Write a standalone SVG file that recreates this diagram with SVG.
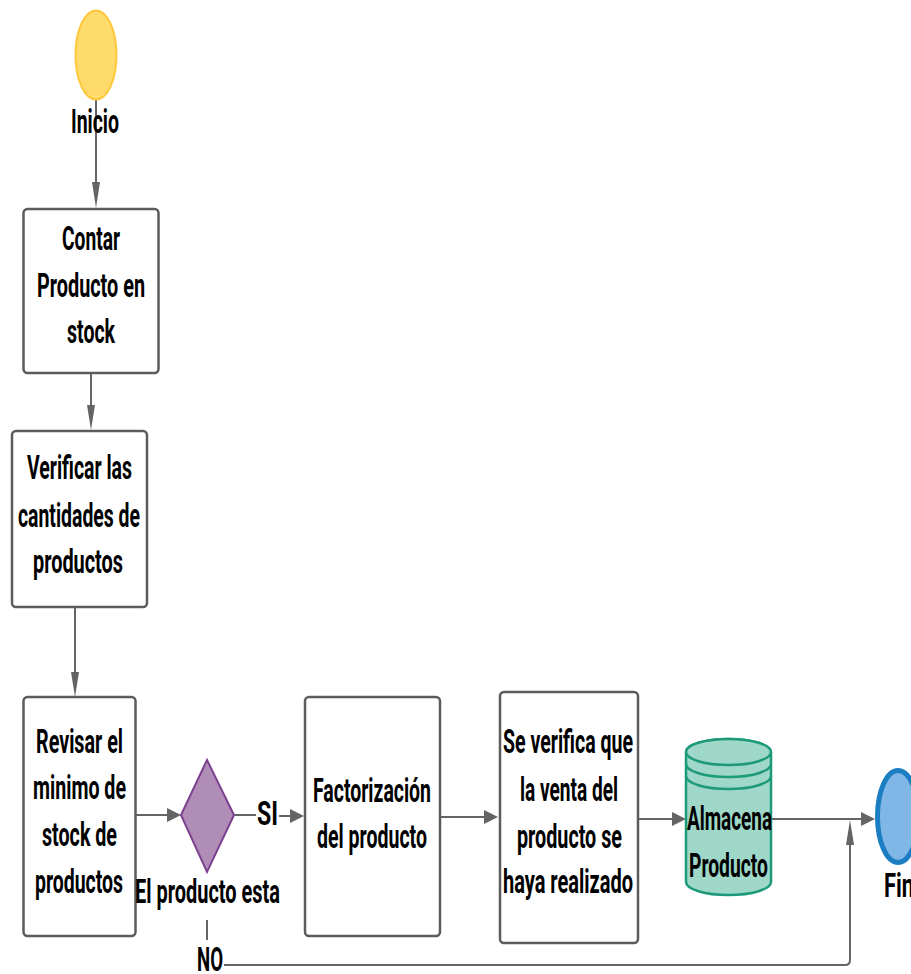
<svg xmlns="http://www.w3.org/2000/svg" width="911" height="974" viewBox="0 0 911 974">
<style>
.box{fill:#ffffff;stroke:#5c5c5c;stroke-width:2.5}
.t{font-family:Roboto,"Liberation Sans",sans-serif;font-weight:bold;font-size:33px;fill:#000000}
.ln{fill:none;stroke:#646464;stroke-width:2}
.ah{fill:#646464;stroke:none}
</style>
<rect width="911" height="974" fill="#ffffff"/>
<g id="connectors">
<line class="ln" x1="96" y1="100" x2="96" y2="184"/>
<polygon class="ah" points="92,182 100,182 96,208"/>
<line class="ln" x1="91" y1="374" x2="91" y2="407"/>
<polygon class="ah" points="87,405 95,405 91,430"/>
<line class="ln" x1="75" y1="608" x2="75" y2="674"/>
<polygon class="ah" points="71,672 79,672 75,697"/>
<line class="ln" x1="136" y1="815" x2="169" y2="815"/>
<polygon class="ah" points="167,808 167,822 181,815"/>
<line class="ln" x1="234" y1="815" x2="256" y2="815"/>
<line class="ln" x1="279" y1="816" x2="292" y2="816"/>
<polygon class="ah" points="290,809 290,823 304,816"/>
<line class="ln" x1="440" y1="817" x2="486" y2="817"/>
<polygon class="ah" points="484,810 484,824 498,817"/>
<line class="ln" x1="638" y1="819" x2="674" y2="819"/>
<polygon class="ah" points="672,812 672,826 686,819"/>
<line class="ln" x1="771" y1="819" x2="863" y2="819"/>
<polygon class="ah" points="861,812 861,826 875,819"/>
<line class="ln" x1="207" y1="920" x2="207" y2="940"/>
<path class="ln" d="M224,965 H845 Q850,965 850,960 V843"/>
<polygon class="ah" points="846,845 854,845 850,820"/>
<text class="t" x="257" y="825" textLength="21" lengthAdjust="spacingAndGlyphs">SI</text>
<text class="t" x="197" y="971" textLength="26" lengthAdjust="spacingAndGlyphs">NO</text>
</g>
<g id="inicio">
<ellipse cx="96" cy="55" rx="20.5" ry="44.5" fill="#FFDB6C" stroke="#FFC73A" stroke-width="2"/>
<text class="t" x="71" y="133" textLength="48" lengthAdjust="spacingAndGlyphs">Inicio</text>
</g>
<g id="contar">
<rect class="box" x="23.5" y="209" width="135" height="164" rx="4"/>
<text class="t" x="62" y="250" textLength="58" lengthAdjust="spacingAndGlyphs">Contar</text>
<text class="t" x="37" y="297" textLength="108" lengthAdjust="spacingAndGlyphs">Producto en</text>
<text class="t" x="67" y="343" textLength="48" lengthAdjust="spacingAndGlyphs">stock</text>
</g>
<g id="verificar">
<rect class="box" x="12" y="431" width="135" height="176" rx="4"/>
<text class="t" x="27" y="479" textLength="105" lengthAdjust="spacingAndGlyphs">Verificar las</text>
<text class="t" x="18" y="527" textLength="122" lengthAdjust="spacingAndGlyphs">cantidades de</text>
<text class="t" x="33" y="573" textLength="90" lengthAdjust="spacingAndGlyphs">productos</text>
</g>
<g id="revisar">
<rect class="box" x="23.5" y="697" width="112" height="239" rx="4"/>
<text class="t" x="36" y="753" textLength="87" lengthAdjust="spacingAndGlyphs">Revisar el</text>
<text class="t" x="33" y="799" textLength="93" lengthAdjust="spacingAndGlyphs">minimo de</text>
<text class="t" x="42" y="846" textLength="75" lengthAdjust="spacingAndGlyphs">stock de</text>
<text class="t" x="35" y="893" textLength="88" lengthAdjust="spacingAndGlyphs">productos</text>
</g>
<g id="decision">
<polygon points="207,760 234,815 207,872 181,815" fill="#B08DB6" stroke="#7D3F8F" stroke-width="2"/>
<text class="t" x="135" y="903" textLength="145" lengthAdjust="spacingAndGlyphs">El producto esta</text>
</g>
<g id="factorizacion">
<rect class="box" x="305" y="697" width="135" height="239" rx="4"/>
<text class="t" x="313" y="802" textLength="118" lengthAdjust="spacingAndGlyphs">Factorización</text>
<text class="t" x="317" y="848" textLength="110" lengthAdjust="spacingAndGlyphs">del producto</text>
</g>
<g id="verifica-venta">
<rect class="box" x="500" y="692" width="138" height="251" rx="4"/>
<text class="t" x="503" y="753" textLength="130" lengthAdjust="spacingAndGlyphs">Se verifica que</text>
<text class="t" x="520" y="801" textLength="98" lengthAdjust="spacingAndGlyphs">la venta del</text>
<text class="t" x="517" y="848" textLength="105" lengthAdjust="spacingAndGlyphs">producto se</text>
<text class="t" x="503" y="893" textLength="130" lengthAdjust="spacingAndGlyphs">haya realizado</text>
</g>
<g id="almacena">
<path d="M686,752 A42.5,13 0 0 1 771,752 L771,882 A42.5,13 0 0 1 686,882 Z" fill="#9FD8C8" stroke="#1D9A7A" stroke-width="2.5"/>
<ellipse cx="728.5" cy="752" rx="42.5" ry="13" fill="#9FD8C8" stroke="#1D9A7A" stroke-width="2.5"/>
<path d="M686,764 A42.5,13 0 0 0 771,764 M686,776 A42.5,13 0 0 0 771,776" fill="none" stroke="#1D9A7A" stroke-width="2.5"/>
<text class="t" x="687" y="830" textLength="85" lengthAdjust="spacingAndGlyphs">Almacena</text>
<text class="t" x="689" y="877" textLength="79" lengthAdjust="spacingAndGlyphs">Producto</text>
</g>
<g id="fin">
<ellipse cx="898" cy="816.5" rx="20.5" ry="46" fill="#80B7E6" stroke="#1C7EC2" stroke-width="5"/>
<text class="t" x="884" y="897" textLength="30" lengthAdjust="spacingAndGlyphs">Fin</text>
</g>
</svg>
